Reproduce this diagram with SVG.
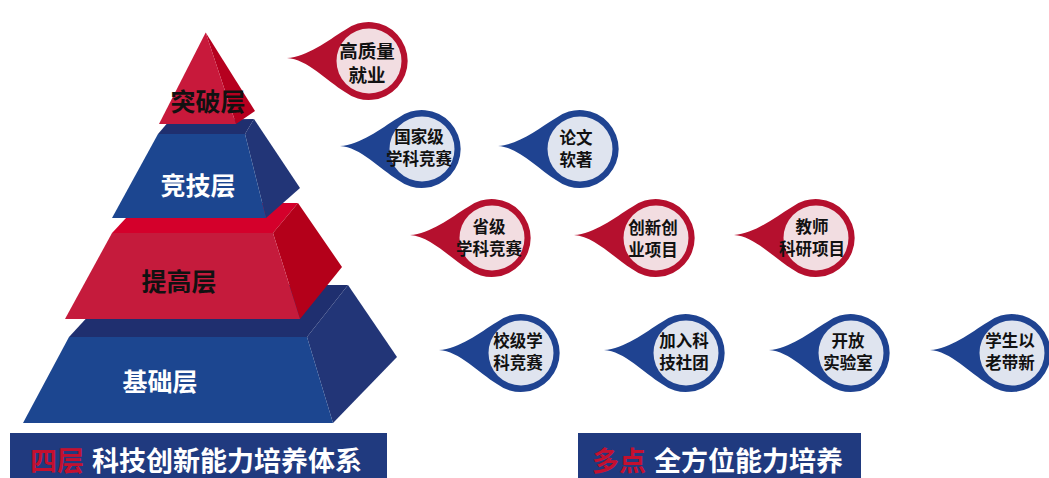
<svg xmlns="http://www.w3.org/2000/svg" xmlns:xlink="http://www.w3.org/1999/xlink" width="1049" height="478" viewBox="0 0 1049 478">
<defs>
<style>
text{font-family:"Noto Sans CJK SC","Noto Sans",sans-serif;font-weight:700;text-anchor:middle}
.lbl{font-size:25px}
.bt{font-size:16.5px;fill:#111}
.bt1{font-size:18.5px;fill:#111}
.ban{font-size:27px;text-anchor:start}
.bf{fill:#1c4690}.bt2{fill:#1f2f6f}.bs{fill:#223577}
.rf{fill:#c51b3c}.rt{fill:#d4002b}.rs{fill:#b4001a}
.red .ring{fill:#b5102e}.red .in{fill:#f2dde1}
.blue .ring{fill:#1f4391}.blue .in{fill:#dfe4ef}
</style>
<path id="drop" d="M -82,-3 C -62,-4 -42,-20 -24,-31 A 39 39 0 1 1 -24,31 C -42,20 -62,-2 -82,-3 Z"/>
</defs>
<rect width="1049" height="478" fill="#ffffff"/>

<g id="layer-base">
<polygon class="bt2" points="69,337 117,285 348,285 307,337"/>
<polygon class="bs" points="307,337 348,285 397,357 333,423"/>
<polygon class="bf" points="69,337 307,337 333,423 23,423"/>
<text class="lbl" x="160" y="390.5" fill="#ffffff">基础层</text>
</g>
<g id="layer-improve">
<polygon class="rt" points="112,233 140,203 298,203 273,233"/>
<polygon class="rs" points="273,233 298,203 342,267 300,319"/>
<polygon class="rf" points="112,233 273,233 300,319 65,319"/>
<text class="lbl" x="179" y="290.5" fill="#111">提高层</text>
</g>
<g id="layer-compete">
<polygon class="bt2" points="158,134 170,120 254,119 245,134"/>
<polygon class="bs" points="245,134 254,119 300,188 266,218"/>
<polygon class="bf" points="158,134 245,134 266,218 112,218"/>
<text class="lbl" x="198" y="194.5" fill="#ffffff">竞技层</text>
</g>
<g id="layer-breakthrough">
<polygon fill="#b6001f" points="205.7,32.5 236,124 255,111"/>
<polygon fill="#c8193b" points="205.7,32.5 159,124 236,124"/>
<text class="lbl" x="208" y="110.5" fill="#111">突破层</text>
</g>

<g id="connectors"></g>

<g id="b-employ" class="red">
<use xlink:href="#drop" href="#drop" class="ring" transform="translate(369,61)"/>
<circle class="in" cx="369" cy="61" r="32.5"/>
<text class="bt1" x="367" y="58">高质量<tspan x="367" dy="24">就业</tspan></text>
</g>
<g id="b-national" class="blue">
<use xlink:href="#drop" href="#drop" class="ring" transform="translate(422,149)"/>
<circle class="in" cx="422" cy="149" r="32.5"/>
<text class="bt" x="419" y="143">国家级<tspan x="419" dy="22">学科竞赛</tspan></text>
</g>
<g id="b-paper" class="blue">
<use xlink:href="#drop" href="#drop" class="ring" transform="translate(580,149)"/>
<circle class="in" cx="580" cy="149" r="32.5"/>
<text class="bt" x="576" y="144">论文<tspan x="576" dy="22">软著</tspan></text>
</g>
<g id="b-province" class="red">
<use xlink:href="#drop" href="#drop" class="ring" transform="translate(492,238)"/>
<circle class="in" cx="492" cy="238" r="32.5"/>
<text class="bt" x="489" y="232.5">省级<tspan x="489" dy="22">学科竞赛</tspan></text>
</g>
<g id="b-innov" class="red">
<use xlink:href="#drop" href="#drop" class="ring" transform="translate(656,238)"/>
<circle class="in" cx="656" cy="238" r="32.5"/>
<text class="bt" x="653" y="233.5">创新创<tspan x="653" dy="22">业项目</tspan></text>
</g>
<g id="b-teacher" class="red">
<use xlink:href="#drop" href="#drop" class="ring" transform="translate(816,238)"/>
<circle class="in" cx="816" cy="238" r="32.5"/>
<text class="bt" x="812" y="233">教师<tspan x="812" dy="22">科研项目</tspan></text>
</g>
<g id="b-school" class="blue">
<use xlink:href="#drop" href="#drop" class="ring" transform="translate(521,353)"/>
<circle class="in" cx="521" cy="353" r="32.5"/>
<text class="bt" x="518" y="347">校级学<tspan x="518" dy="22">科竞赛</tspan></text>
</g>
<g id="b-club" class="blue">
<use xlink:href="#drop" href="#drop" class="ring" transform="translate(686,353)"/>
<circle class="in" cx="686" cy="353" r="32.5"/>
<text class="bt" x="684" y="347">加入科<tspan x="684" dy="22">技社团</tspan></text>
</g>
<g id="b-lab" class="blue">
<use xlink:href="#drop" href="#drop" class="ring" transform="translate(851,353)"/>
<circle class="in" cx="851" cy="353" r="32.5"/>
<text class="bt" x="848" y="347">开放<tspan x="848" dy="22">实验室</tspan></text>
</g>
<g id="b-mentor" class="blue">
<use xlink:href="#drop" href="#drop" class="ring" transform="translate(1012,353)"/>
<circle class="in" cx="1012" cy="353" r="32.5"/>
<text class="bt" x="1010" y="347">学生以<tspan x="1010" dy="22">老带新</tspan></text>
</g>

<g id="banner-left">
<rect x="10" y="433" width="377" height="45" fill="#203a7f"/>
<text class="ban" x="30" y="471"><tspan fill="#c4102f">四层</tspan><tspan fill="#ffffff" dx="8">科技创新能力培养体系</tspan></text>
</g>
<g id="banner-right">
<rect x="578" y="433" width="283" height="45" fill="#203a7f"/>
<text class="ban" x="592" y="471"><tspan fill="#c4102f">多点</tspan><tspan fill="#ffffff" dx="8">全方位能力培养</tspan></text>
</g>
</svg>
